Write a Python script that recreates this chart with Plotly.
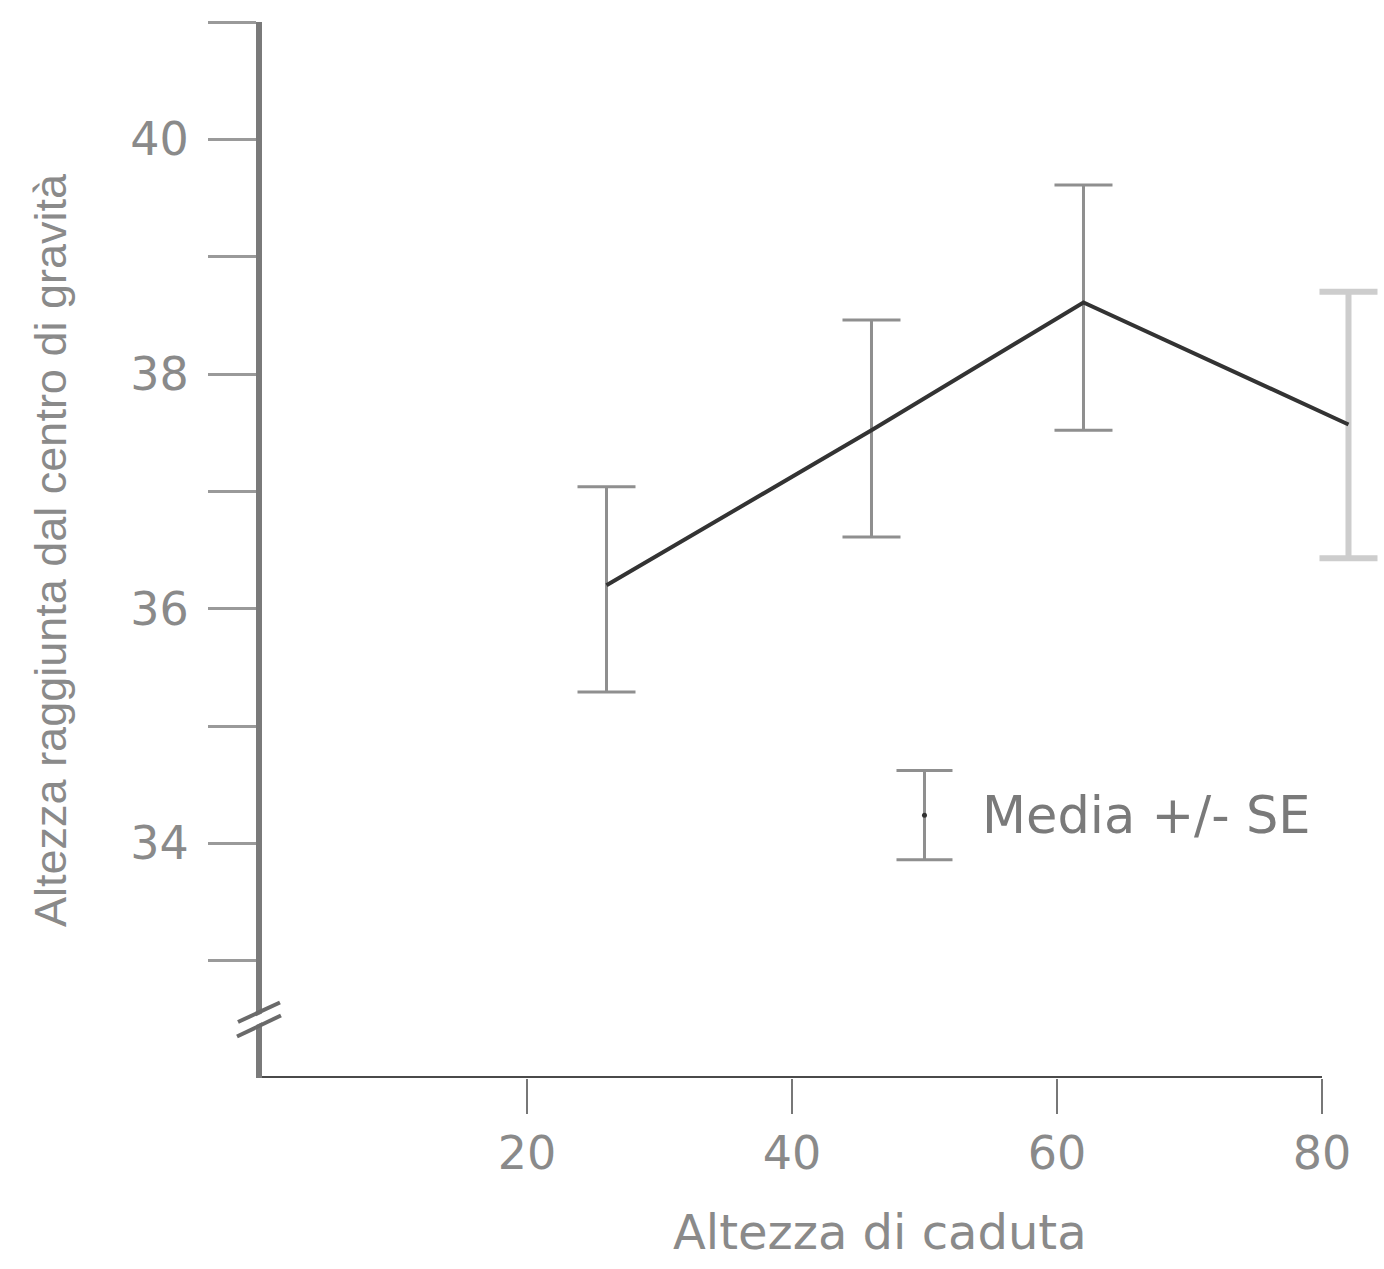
import plotly.graph_objects as go

# ---- data ----
drop_height = [26, 46, 62, 82]
com_height = [36.20, 37.52, 38.61, 37.57]
se_plus = [0.84, 0.94, 1.00, 1.13]
se_minus = [0.91, 0.91, 1.09, 1.14]

x_ticks = [20, 40, 60, 80]
y_tickvals = [33, 34, 35, 36, 37, 38, 39, 40, 41]
y_ticktext = ["", "34", "", "36", "", "38", "", "40", ""]

legend_x = [50]
legend_y = [34.24]
legend_se = [0.38]
legend_label = "Media +/- SE"

x_title = "Altezza di caduta"
y_title = "Altezza raggiunta dal centro di gravità"

X_RANGE = [0, 84.68]
Y_RANGE = [32, 41]

TEXT = "#8a8a8a"
WIDE = "DejaVu Sans"
NARROW = "Liberation Sans Narrow, Arial Narrow, Liberation Sans, sans-serif"

fig = go.Figure()

# error bars (first three)
fig.add_trace(go.Scatter(
    x=drop_height[:3], y=com_height[:3], mode="markers",
    marker=dict(size=1, color="rgba(0,0,0,0)"),
    error_y=dict(type="data", symmetric=False, array=se_plus[:3],
                 arrayminus=se_minus[:3], color="#8f8f8f", thickness=3, width=29),
    showlegend=False, hoverinfo="skip"))
# error bar (last, lighter)
fig.add_trace(go.Scatter(
    x=drop_height[3:], y=com_height[3:], mode="markers",
    marker=dict(size=1, color="rgba(0,0,0,0)"),
    error_y=dict(type="data", symmetric=False, array=se_plus[3:],
                 arrayminus=se_minus[3:], color="#cdcdcd", thickness=6, width=29),
    showlegend=False, hoverinfo="skip"))
# mean line
fig.add_trace(go.Scatter(
    x=drop_height, y=com_height, mode="lines",
    line=dict(color="#333333", width=4),
    showlegend=False))
# legend key
fig.add_trace(go.Scatter(
    x=legend_x, y=legend_y, mode="markers",
    marker=dict(size=5, color="#333333"),
    error_y=dict(type="data", array=legend_se, color="#8f8f8f", thickness=3, width=28),
    showlegend=False, hoverinfo="skip"))

shapes = [
    # x axis line ending at 80
    dict(type="line", xref="x", yref="y", x0=X_RANGE[0], x1=x_ticks[-1], y0=Y_RANGE[0], y1=Y_RANGE[0],
         line=dict(color="#4a4a4a", width=4)),
    # axis break: white gap then two slanted strokes (paper coords so not clipped)
    dict(type="line", xref="paper", yref="paper", x0=-0.0218, x1=0.0165, y0=0.0459, y1=0.0653,
         line=dict(color="white", width=8)),
    dict(type="line", xref="paper", yref="paper", x0=-0.0214, x1=0.0160, y0=0.0530, y1=0.0715,
         line=dict(color="#6a6a6a", width=4)),
    dict(type="line", xref="paper", yref="paper", x0=-0.0223, x1=0.0169, y0=0.0393, y1=0.0592,
         line=dict(color="#6a6a6a", width=4)),
]

annotations = [
    dict(text=legend_label, xref="x", yref="y", x=legend_x[0] + 4.2, y=legend_y[0],
         xanchor="left", yanchor="middle", showarrow=False,
         font=dict(family=WIDE, size=51, color="#7a7a7a")),
    dict(text=x_title, xref="paper", yref="paper", x=0.551, y=-0.146,
         xanchor="center", yanchor="middle", showarrow=False,
         font=dict(family=WIDE, size=48, color=TEXT)),
    dict(text=y_title, xref="paper", yref="paper", x=-0.189, y=0.5,
         xanchor="center", yanchor="middle", showarrow=False, textangle=-90,
         font=dict(family=NARROW, size=45, color=TEXT)),
]

fig.update_layout(
    width=1384, height=1269,
    margin=dict(l=262, r=0, t=22, b=191),
    paper_bgcolor="white", plot_bgcolor="white",
    shapes=shapes, annotations=annotations,
    xaxis=dict(range=X_RANGE, tickvals=x_ticks, ticktext=[str(v) for v in x_ticks],
               showgrid=False, zeroline=False, showline=False,
               ticks="outside", ticklen=35, tickwidth=2, tickcolor="#777777",
               ticklabelstandoff=0,
               tickfont=dict(family=WIDE, size=46, color=TEXT)),
    yaxis=dict(range=Y_RANGE, tickvals=y_tickvals, ticktext=y_ticktext,
               showgrid=False, zeroline=False, showline=True,
               linecolor="#7a7a7a", linewidth=6,
               ticks="outside", ticklen=48, tickwidth=3, tickcolor="#9a9a9a",
               ticklabelstandoff=10,
               tickfont=dict(family=WIDE, size=46, color=TEXT)),
)

fig.write_html("out.html")
